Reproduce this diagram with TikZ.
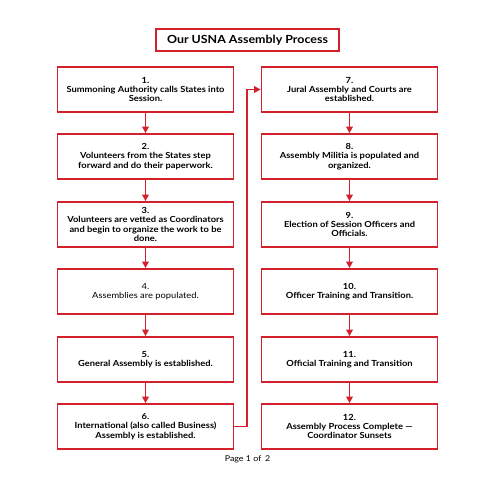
\documentclass[tikz,border=0pt]{standalone}
\usepackage{fontspec}
\setmainfont{Lato}[FakeStretch=1.11]
\usetikzlibrary{arrows.meta}
\definecolor{boxred}{HTML}{D2202C}
\begin{document}
\begin{tikzpicture}[x=1pt,y=1pt,
  stepbox/.style={draw=boxred, line width=1.8pt, minimum width=176pt, minimum height=45pt,
    align=center, inner sep=0pt, font=\fontsize{8.4}{9.2}\selectfont\bfseries},
  lightbox/.style={stepbox, font=\fontsize{8.4}{9.2}\selectfont},
  flow/.style={draw=boxred, line width=1.8pt, -{Triangle[length=6.5pt,width=6.5pt]}}]
\useasboundingbox (0,0) rectangle (495,-495);
\fill[white] (0,0) rectangle (495,-495);
\node[draw=boxred, line width=1.8pt, minimum width=183pt, minimum height=22pt, inner sep=0pt,
  font=\fontsize{11.2}{13}\selectfont\bfseries] (title) at (247.5,-40) {Our USNA Assembly Process};
\node[stepbox] (b1) at (145.5,-89.5) {1.\\Summoning Authority calls States into\\Session.};
\node[stepbox] (b2) at (145.5,-156.5) {2.\\Volunteers from the States step\\forward and do their paperwork.};
\node[stepbox] (b3) at (145.5,-224.5) {3.\\Volunteers are vetted as Coordinators\\and begin to organize the work to be\\done.};
\node[lightbox] (b4) at (145.5,-291.5) {4.\\Assemblies are populated.};
\node[stepbox] (b5) at (145.5,-359.5) {5.\\General Assembly is established.};
\node[stepbox] (b6) at (145.5,-426.5) {6.\\International (also called Business)\\Assembly is established.};
\node[stepbox] (b7) at (349.5,-89.5) {7.\\Jural Assembly and Courts are\\established.};
\node[stepbox] (b8) at (349.5,-156.5) {8.\\Assembly Militia is populated and\\organized.};
\node[stepbox] (b9) at (349.5,-224.5) {9.\\Election of Session Officers and\\Officials.};
\node[stepbox] (b10) at (349.5,-291.5) {10.\\Officer Training and Transition.};
\node[stepbox] (b11) at (349.5,-359.5) {11.\\Official Training and Transition};
\node[stepbox] (b12) at (349.5,-426.5) {12.\\Assembly Process Complete —\\Coordinator Sunsets};
\node[font=\fontsize{8}{10}\selectfont] (page) at (247.5,-459) {Page 1 of\, 2};
\coordinate (mid) at (247,-250);
\draw[flow] (b1) -- (b2);
\draw[flow] (b2) -- (b3);
\draw[flow] (b3) -- (b4);
\draw[flow] (b4) -- (b5);
\draw[flow] (b5) -- (b6);
\draw[flow] (b6.east) -- (b6.east -| mid) |- (b7.west);
\draw[flow] (b7) -- (b8);
\draw[flow] (b8) -- (b9);
\draw[flow] (b9) -- (b10);
\draw[flow] (b10) -- (b11);
\draw[flow] (b11) -- (b12);
\end{tikzpicture}
\end{document}
